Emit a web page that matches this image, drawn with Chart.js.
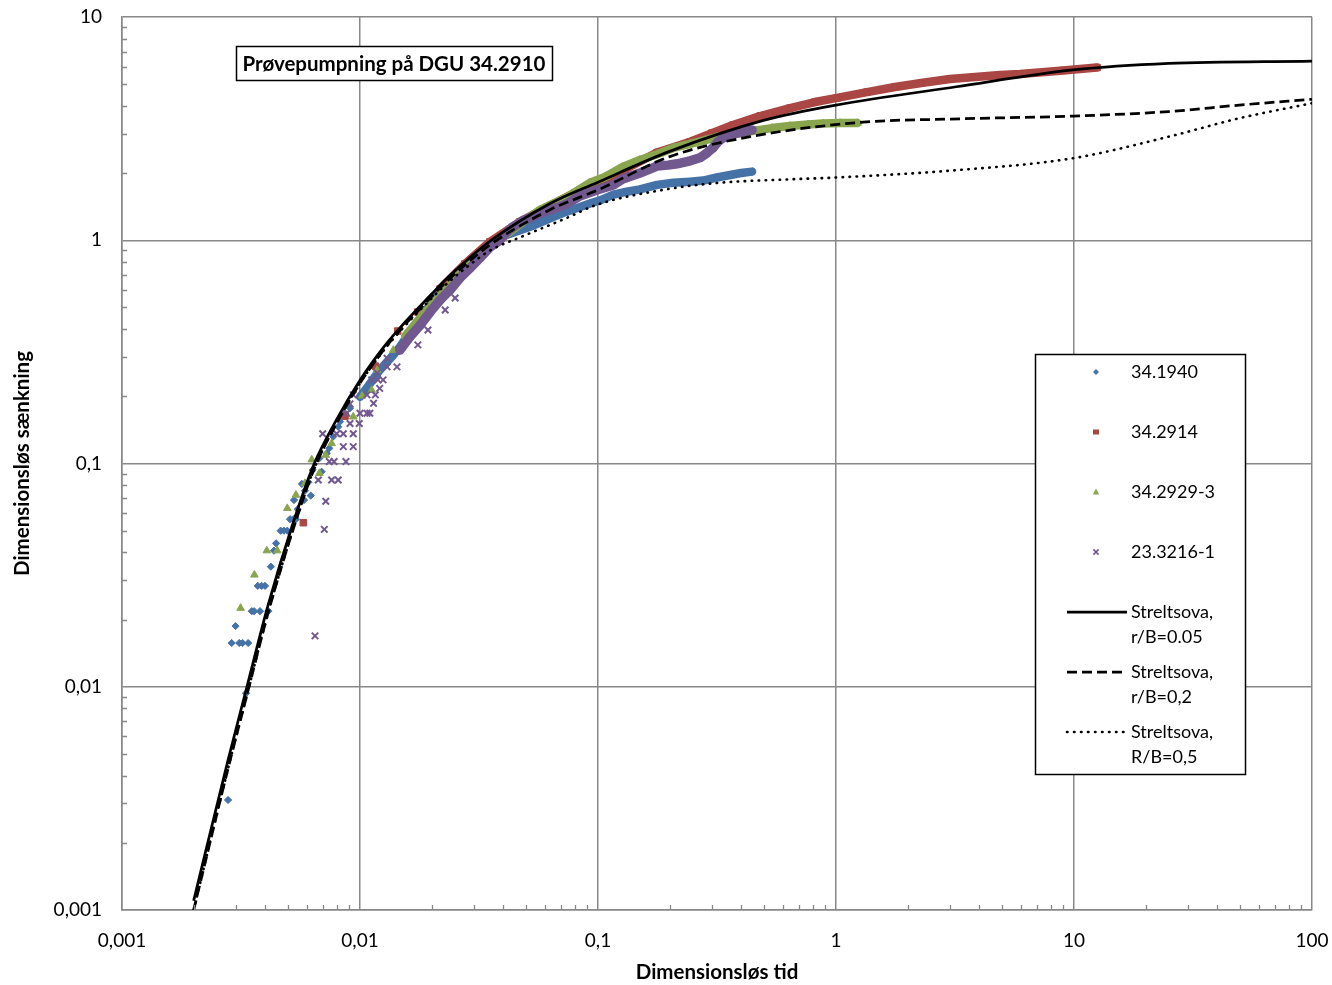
<!DOCTYPE html>
<html>
<head>
<meta charset="utf-8">
<script src="https://cdn.jsdelivr.net/npm/chart.js@4.4.1/dist/chart.umd.min.js"></script>
<style>
  html, body { margin: 0; padding: 0; background: #fff; }
  #wrap { width: 1332px; height: 985px; }
</style>
</head>
<body>
<div id="wrap"><canvas id="chart" width="1332" height="985"></canvas></div>
<script>
const FONT = "Lato, 'Open Sans', sans-serif";
const GRID = '#888888';

const xTickValues = [0.001, 0.01, 0.1, 1, 10, 100];
const xTickLabels = ['0,001', '0,01', '0,1', '1', '10', '100'];
const yTickValues = [0.001, 0.01, 0.1, 1, 10];
const yTickLabels = ['0,001', '0,01', '0,1', '1', '10'];

const chartTitle = 'Prøvepumpning på DGU 34.2910';
const seriesNames = ['34.1940', '34.2914', '34.2929-3', '23.3216-1'];
const curveNames = [['Streltsova,', 'r/B=0.05'], ['Streltsova,', 'r/B=0,2'], ['Streltsova,', 'R/B=0,5']];

// 34.1940 - early single readings, then the continuous run
const obs1940 = [[0.00279,0.00311],[0.00289,0.0157],[0.00311,0.0157],[0.00321,0.0157],[0.00339,0.0157],[0.00332,0.00935],
  [0.0030,0.0187],[0.00351,0.0218],[0.00359,0.0218],[0.0038,0.0218],[0.00412,0.0218],[0.00372,0.0283],[0.00386,0.0283],
  [0.00399,0.0283],[0.00422,0.0345],[0.00435,0.0407],[0.00444,0.0439],[0.00464,0.05],[0.00479,0.05],[0.00495,0.05],
  [0.00508,0.0563],[0.00524,0.0563],[0.00538,0.0563],[0.00547,0.0624],[0.00528,0.0686],[0.00582,0.0686],[0.00621,0.0718],
  [0.00587,0.0755],[0.0057,0.081],[0.00607,0.0824],[0.00633,0.0935],[0.0069,0.0919],[0.00675,0.1055],[0.00725,0.111],
  [0.00743,0.117],[0.00772,0.132],[0.0081,0.146],[0.00824,0.154],[0.00865,0.168],[0.00908,0.177]];
const run1940 = [[0.01,0.199],[0.0107,0.218],[0.0113,0.237],[0.0121,0.262],[0.013,0.285],[0.0138,0.306],[0.0147,0.332],
  [0.0162,0.388],[0.0179,0.449],[0.0197,0.513],[0.0217,0.586],[0.0239,0.657],[0.0263,0.729],[0.029,0.799],[0.0319,0.877],
  [0.0352,0.952],[0.0387,1.02],[0.0415,1.06],[0.0461,1.10],[0.0518,1.15],[0.0582,1.21],[0.0647,1.27],[0.0734,1.34],
  [0.084,1.41],[0.0925,1.46],[0.102,1.51],[0.116,1.60],[0.132,1.65],[0.150,1.69],[0.177,1.77],[0.207,1.81],[0.244,1.83],
  [0.276,1.85],[0.316,1.91],[0.359,1.96],[0.399,2.00],[0.444,2.03]];

// 34.2914
const obs2914 = [[0.00578,0.0543],[0.00865,0.163],[0.0116,0.273],[0.0144,0.392],[0.0175,0.477]];
const run2914 = [[0.0217,0.605],[0.0276,0.783],[0.0352,0.985],[0.047,1.21],[0.0629,1.43],[0.080,1.63],[0.1,1.80],
  [0.130,2.08],[0.177,2.47],[0.244,2.76],[0.301,3.02],[0.369,3.28],[0.480,3.60],[0.641,3.91],[0.816,4.16],[1.01,4.34],
  [1.35,4.61],[1.77,4.86],[2.28,5.06],[3.01,5.28],[3.84,5.39],[4.89,5.50],[5.93,5.56],[7.55,5.67],[8.99,5.76],
  [10.6,5.85],[12.5,5.94]];

// 34.2929-3
const obs2929 = [[0.00315,0.0225],[0.0036,0.0317],[0.00406,0.0407],[0.00449,0.0407],[0.00495,0.063],[0.00538,0.0723],
  [0.00587,0.0815],[0.00627,0.104],[0.00675,0.0904],[0.00718,0.109],[0.0076,0.123],[0.00937,0.162],[0.0102,0.201],
  [0.0112,0.213],[0.0118,0.262],[0.0138,0.322]];
const run2929 = [[0.0155,0.373],[0.0179,0.449],[0.0217,0.563],[0.0263,0.706],[0.0319,0.859],[0.0387,1.01],[0.047,1.18],
  [0.0571,1.37],[0.0741,1.56],[0.0925,1.81],[0.107,1.92],[0.127,2.13],[0.150,2.29],[0.177,2.43],[0.207,2.59],[0.244,2.70],
  [0.282,2.81],[0.316,2.90],[0.376,2.99],[0.448,3.09],[0.538,3.18],[0.641,3.25],[0.763,3.30],[0.882,3.33],[1.04,3.35],
  [1.23,3.35]];

// 23.3216-1
const obs3216 = [[0.00647,0.0169],[0.00708,0.0507],[0.00718,0.0677],[0.00668,0.0844],[0.0076,0.0844],[0.0081,0.0844],
  [0.00743,0.102],[0.00778,0.102],[0.00873,0.102],[0.00851,0.119],[0.00937,0.119],[0.00697,0.136],[0.00798,0.136],
  [0.00851,0.136],[0.00937,0.136],[0.00908,0.151],[0.00993,0.151],[0.00879,0.168],[0.01,0.168],[0.0107,0.168],
  [0.011,0.168],[0.00908,0.185],[0.0114,0.186],[0.00937,0.203],[0.0107,0.203],[0.0116,0.203],[0.0121,0.217],
  [0.0112,0.237],[0.0119,0.237],[0.0125,0.237],[0.0118,0.254],[0.0130,0.271],[0.0143,0.271],[0.013,0.296],
  [0.0175,0.340],[0.0193,0.396],[0.0228,0.487],[0.0251,0.551]];
const run3216 = [[0.0147,0.322],[0.0162,0.369],[0.0179,0.417],[0.0197,0.477],[0.0217,0.540],[0.0239,0.599],[0.0263,0.678],
  [0.029,0.751],[0.0319,0.833],[0.0352,0.933],[0.0387,1.00],[0.0415,1.09],[0.044,1.15],[0.048,1.22],[0.0518,1.26],
  [0.0582,1.33],[0.0647,1.38],[0.0734,1.45],[0.084,1.58],[0.099,1.68],[0.116,1.77],[0.127,1.88],[0.150,2.00],
  [0.177,2.15],[0.197,2.17],[0.215,2.20],[0.244,2.27],[0.268,2.34],[0.287,2.46],[0.304,2.59],[0.319,2.76],
  [0.335,2.87],[0.384,3.02],[0.444,3.12]];

// type curves
const streltsova005 = [[0.002,0.0011],[0.00279,0.0047],[0.00335,0.0100],[0.00411,0.0232],[0.00523,0.054],[0.0064,0.099],
  [0.00794,0.156],[0.01,0.236],[0.0126,0.333],[0.0145,0.398],[0.02,0.574],[0.0232,0.675],[0.0282,0.815],[0.0352,0.99],
  [0.0629,1.46],[0.1,1.82],[0.2,2.50],[0.5,3.45],[1,4.03],[3.2,4.87],[9.9,5.79],[25,6.20],[100,6.35]];
const streltsova02 = [[0.002,0.0010],[0.00279,0.0043],[0.00335,0.0092],[0.00411,0.0214],[0.00523,0.0505],[0.0064,0.094],
  [0.00794,0.150],[0.01,0.229],[0.0126,0.324],[0.0145,0.388],[0.02,0.560],[0.0232,0.655],[0.0282,0.79],[0.0352,0.955],
  [0.0629,1.37],[0.1,1.68],[0.2,2.37],[0.435,2.91],[1.3,3.38],[3.0,3.49],[9.9,3.60],[25,3.77],[49.5,4.03],[100,4.28]];
const streltsova05 = [[0.002,0.0010],[0.00279,0.0043],[0.00335,0.0092],[0.00411,0.0214],[0.00523,0.0505],[0.0064,0.094],
  [0.00794,0.150],[0.01,0.229],[0.0126,0.322],[0.0145,0.384],[0.02,0.55],[0.0232,0.64],[0.0282,0.76],[0.0352,0.90],
  [0.047,1.03],[0.0741,1.26],[0.0985,1.44],[0.2,1.70],[0.326,1.81],[0.641,1.875],[1.0,1.91],[3.21,2.06],[9.9,2.33],
  [25,2.91],[49.5,3.52],[100,4.11]];

const colors = ['#4572A7', '#AA4643', '#89A54E', '#71588F'];
const markers = [
  { style: 'rectRot', radius: 3.6, band: 8.5 },
  { style: 'rect', radius: 4.6, band: 8.5 },
  { style: 'triangle', radius: 4.4, band: 8.5 },
  { style: 'crossRot', radius: 4.6, band: 9.5 }
];
const lineStyles = [
  { dash: [], width: 2.75, cap: 'butt' },
  { dash: [10, 5], width: 2.75, cap: 'butt' },
  { dash: [0.5, 6.5], width: 2.6, cap: 'round' }
];

const pts = arr => arr.map(([x, y]) => ({ x, y }));

const observed = [[obs1940, run1940], [obs2914, run2914], [obs2929, run2929], [obs3216, run3216]];
const curves = [streltsova005, streltsova02, streltsova05];

const datasets = [];
observed.forEach(([single, run], i) => {
  const m = markers[i];
  const c = colors[i];
  // stacking: later stations sit on top, blue at the bottom
  const order = 4 - i + 1;
  datasets.push({
    label: seriesNames[i], data: pts(single), order,
    pointStyle: m.style, pointRadius: m.radius, backgroundColor: c, borderColor: c,
    borderWidth: m.style === 'crossRot' ? 2 : 1, showLine: false
  });
  datasets.push({
    label: seriesNames[i], data: pts(run), order,
    pointStyle: m.style, pointRadius: m.radius, backgroundColor: c, borderColor: c,
    pointBorderWidth: m.style === 'crossRot' ? 2 : 1,
    showLine: true, borderWidth: m.band, borderCapStyle: 'round', borderJoinStyle: 'round'
  });
});
curves.forEach((curve, i) => {
  const s = lineStyles[i];
  datasets.push({
    label: curveNames[i].join(' '), data: pts(curve), order: 0,
    showLine: true, pointRadius: 0, borderColor: '#000', borderWidth: s.width,
    borderDash: s.dash, borderCapStyle: s.cap, cubicInterpolationMode: 'monotone'
  });
});

// small inward tick marks at 2..9 of every decade on the two axes
const minorTicks = {
  id: 'minorTicks',
  afterDatasetsDraw(chart) {
    const { ctx, scales: { x, y } } = chart;
    ctx.save();
    ctx.strokeStyle = GRID;
    ctx.lineWidth = 1.3;
    ctx.beginPath();
    for (let e = -3; e < 2; e++) {
      for (let m = 2; m < 10; m++) {
        const px = Math.round(x.getPixelForValue(m * Math.pow(10, e))) + 0.5;
        ctx.moveTo(px, y.bottom);
        ctx.lineTo(px, y.bottom - 5);
      }
    }
    for (let e = -3; e < 1; e++) {
      for (let m = 2; m < 10; m++) {
        const py = Math.round(y.getPixelForValue(m * Math.pow(10, e))) + 0.5;
        ctx.moveTo(x.left, py);
        ctx.lineTo(x.left + 5, py);
      }
    }
    ctx.stroke();
    ctx.restore();
  }
};

function drawLegendMarker(ctx, i, cx, cy) {
  ctx.fillStyle = colors[i];
  ctx.strokeStyle = colors[i];
  ctx.beginPath();
  if (i === 0) {
    const r = 3;
    ctx.moveTo(cx - r, cy); ctx.lineTo(cx, cy - r); ctx.lineTo(cx + r, cy); ctx.lineTo(cx, cy + r);
    ctx.closePath(); ctx.fill();
  } else if (i === 1) {
    ctx.fillRect(cx - 3, cy - 2.5, 6, 5);
  } else if (i === 2) {
    ctx.moveTo(cx, cy - 3.5); ctx.lineTo(cx + 3.2, cy + 2.5); ctx.lineTo(cx - 3.2, cy + 2.5);
    ctx.closePath(); ctx.fill();
  } else {
    ctx.lineWidth = 1.6;
    ctx.moveTo(cx - 2.6, cy - 2.6); ctx.lineTo(cx + 2.6, cy + 2.6);
    ctx.moveTo(cx + 2.6, cy - 2.6); ctx.lineTo(cx - 2.6, cy + 2.6);
    ctx.stroke();
  }
}

// boxed heading and the legend panel, drawn on top of the plot
const annotations = {
  id: 'annotations',
  afterDraw(chart) {
    const ctx = chart.ctx;
    ctx.save();

    // heading box
    ctx.fillStyle = '#fff';
    ctx.fillRect(236, 46, 316, 34);
    ctx.strokeStyle = '#000';
    ctx.lineWidth = 1.5;
    ctx.strokeRect(236.5, 46.5, 316, 34);
    ctx.fillStyle = '#000';
    ctx.font = `bold 20.5px ${FONT}`;
    ctx.textAlign = 'center';
    ctx.textBaseline = 'middle';
    ctx.fillText(chartTitle, 394, 64);

    // legend
    ctx.fillStyle = '#fff';
    ctx.fillRect(1035, 354, 210, 420);
    ctx.strokeRect(1035.5, 354.5, 210, 420);
    ctx.font = `18px ${FONT}`;
    ctx.textAlign = 'left';
    ctx.fillStyle = '#000';
    seriesNames.forEach((name, i) => {
      const cy = 372 + i * 60;
      drawLegendMarker(ctx, i, 1096, cy);
      ctx.fillStyle = '#000';
      ctx.fillText(name, 1131, cy);
    });
    curveNames.forEach((lines, i) => {
      const cy = 612 + i * 60;
      const s = lineStyles[i];
      ctx.save();
      ctx.strokeStyle = '#000';
      ctx.lineWidth = s.width;
      ctx.lineCap = s.cap;
      ctx.setLineDash(s.dash);
      ctx.beginPath();
      ctx.moveTo(1067, cy);
      ctx.lineTo(1127, cy);
      ctx.stroke();
      ctx.restore();
      ctx.fillStyle = '#000';
      ctx.fillText(lines[0], 1131, cy);
      ctx.fillText(lines[1], 1131, cy + 25);
    });
    ctx.restore();
  }
};

new Chart(document.getElementById('chart'), {
  type: 'scatter',
  data: { datasets },
  options: {
    responsive: false,
    animation: false,
    events: [],
    layout: { padding: { left: 0, right: 20, top: 17, bottom: 0 } },
    plugins: { legend: { display: false }, tooltip: { enabled: false } },
    scales: {
      x: {
        type: 'logarithmic', min: 0.001, max: 100, position: 'bottom',
        afterBuildTicks: s => { s.ticks = xTickValues.map(v => ({ value: v, major: true })); },
        afterFit: s => { s.height = 75; s.paddingLeft = 0; s.paddingRight = 0; },
        ticks: {
          callback: (v, i) => xTickLabels[i],
          font: { family: FONT, size: 19 }, color: '#000', padding: 19,
          maxRotation: 0, autoSkip: false
        },
        grid: { color: GRID, lineWidth: 1.5, drawTicks: false },
        border: { color: GRID, width: 1.5 },
        title: {
          display: true, text: 'Dimensionsløs tid', color: '#000',
          font: { family: FONT, size: 20.5, weight: 'bold' }, padding: { top: 0, bottom: 0 }
        }
      },
      y: {
        type: 'logarithmic', min: 0.001, max: 10, position: 'left',
        afterBuildTicks: s => { s.ticks = yTickValues.map(v => ({ value: v, major: true })); },
        afterFit: s => { s.width = 122; s.paddingTop = 0; s.paddingBottom = 0; },
        ticks: {
          callback: (v, i) => yTickLabels[i],
          font: { family: FONT, size: 19 }, color: '#000', padding: 20, autoSkip: false
        },
        grid: { color: GRID, lineWidth: 1.5, drawTicks: false },
        border: { color: GRID, width: 1.5 },
        title: {
          display: true, text: 'Dimensionsløs sænkning', color: '#000',
          font: { family: FONT, size: 20.5, weight: 'bold' }, padding: { top: 10, bottom: 0 }
        }
      }
    }
  },
  plugins: [minorTicks, annotations]
});
</script>
</body>
</html>
